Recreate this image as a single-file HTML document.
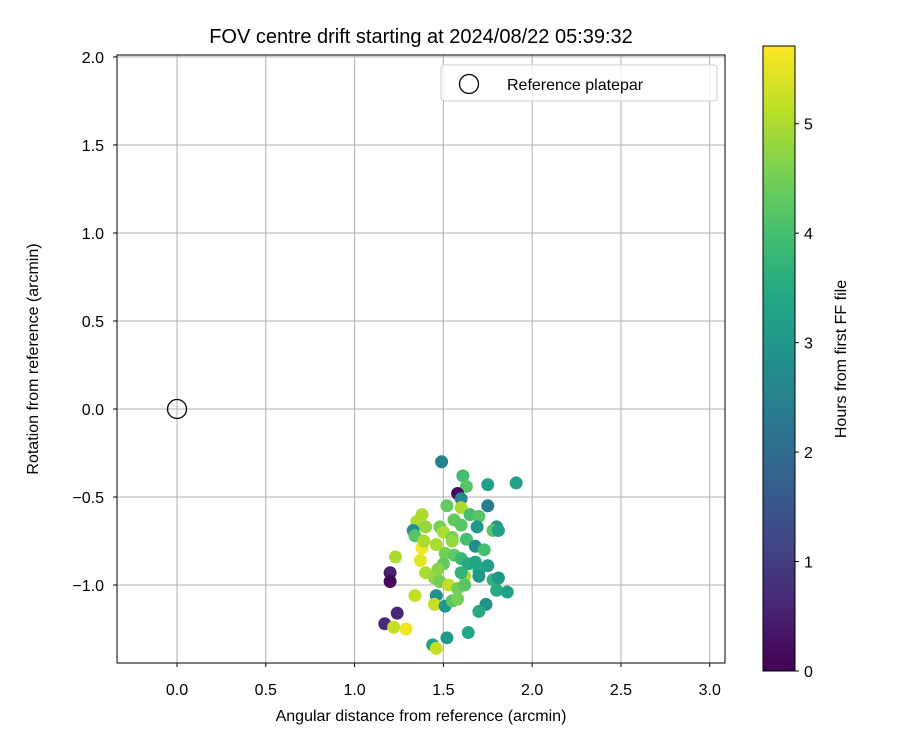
<!DOCTYPE html>
<html><head><meta charset="utf-8"><style>body{margin:0;background:#fff}svg text{font-family:"Liberation Sans",sans-serif;fill:#000}</style></head>
<body>
<svg id="c" width="900" height="750">
<defs><linearGradient id="vg" x1="0" y1="1" x2="0" y2="0">
<stop offset="0" stop-color="#440154"/><stop offset="0.1" stop-color="#482475"/><stop offset="0.2" stop-color="#414487"/><stop offset="0.3" stop-color="#355f8d"/><stop offset="0.4" stop-color="#2a788e"/><stop offset="0.5" stop-color="#21918c"/><stop offset="0.6" stop-color="#22a884"/><stop offset="0.7" stop-color="#44bf70"/><stop offset="0.8" stop-color="#7ad151"/><stop offset="0.9" stop-color="#bddf26"/><stop offset="1" stop-color="#fde725"/></linearGradient></defs>
</svg>
<script>
const xs=[1.49,1.61,1.63,1.75,1.91,1.58,1.60,1.75,1.52,1.60,1.65,1.70,1.38,1.35,1.56,1.60,1.33,1.34,1.40,1.48,1.50,1.55,1.63,1.69,1.80,1.78,1.81,1.68,1.38,1.37,1.39,1.46,1.55,1.23,1.51,1.56,1.60,1.64,1.68,1.73,1.75,1.70,1.62,1.60,1.50,1.47,1.40,1.45,1.48,1.53,1.58,1.62,1.70,1.78,1.81,1.80,1.86,1.20,1.20,1.34,1.46,1.45,1.51,1.55,1.58,1.74,1.70,1.24,1.17,1.22,1.29,1.52,1.64,1.44,1.46];
const ys=[-0.30,-0.38,-0.44,-0.43,-0.42,-0.48,-0.51,-0.55,-0.55,-0.56,-0.60,-0.61,-0.60,-0.64,-0.63,-0.66,-0.69,-0.72,-0.67,-0.67,-0.70,-0.73,-0.74,-0.67,-0.67,-0.69,-0.69,-0.78,-0.79,-0.86,-0.75,-0.77,-0.75,-0.84,-0.82,-0.83,-0.85,-0.88,-0.87,-0.80,-0.89,-0.92,-0.95,-0.93,-0.88,-0.91,-0.93,-0.96,-0.98,-1.00,-1.02,-1.00,-0.95,-0.97,-0.96,-1.03,-1.04,-0.93,-0.98,-1.06,-1.06,-1.11,-1.12,-1.09,-1.08,-1.11,-1.15,-1.16,-1.22,-1.24,-1.25,-1.30,-1.27,-1.34,-1.36];
const hours=[2.5,4,4.2,3.2,3.2,0.2,2.6,2.4,4.3,5,4,4.2,5,5,4.3,4.2,2.8,4.2,4.8,4.5,5,4.5,4,3,3,4.2,3.2,2.8,5.6,5.5,5,5,4.8,5,4.5,4.3,3.8,3.5,3.3,4,3.2,3.4,5,3.7,4.3,4.7,5,4.8,4.5,5.2,4.5,4.2,3,3.7,3,3.5,3.2,0.5,0.1,5.2,2.8,5.2,3,4.2,4.5,2.9,3.5,0.6,0.7,5.2,5.6,3.1,3.4,3.2,5.2];
const xTicks=[0,0.5,1,1.5,2,2.5,3], yTicks=[-1,-0.5,0,0.5,1,1.5,2], cTicks=[0,1,2,3,4,5];
const NS="http://www.w3.org/2000/svg",svg=document.getElementById('c');
const L=117,R=725,T=55,B=663,xmin=-0.338,xmax=3.086,ymin=-1.443,ymax=2.011,cmax=5.71;
const X=v=>L+(v-xmin)/(xmax-xmin)*(R-L), Y=v=>B-(v-ymin)/(ymax-ymin)*(B-T);
function el(t,a,txt){const e=document.createElementNS(NS,t);for(const k in a)e.setAttribute(k,a[k]);if(txt!=null)e.textContent=txt;svg.appendChild(e);return e;}
const vir=[[68,1,84],[72,36,117],[65,68,135],[53,95,141],[42,120,142],[33,145,140],[34,168,132],[68,191,112],[122,209,81],[189,223,38],[253,231,37]];
function cmap(t){t=Math.max(0,Math.min(1,t))*(vir.length-1);const i=Math.min(Math.floor(t),vir.length-2),f=t-i;const c=vir[i].map((v,k)=>Math.round(v+(vir[i+1][k]-v)*f));return`rgb(${c})`;}
xTicks.forEach(v=>{const g=el('line',{x1:X(v),x2:X(v),y1:T,y2:B,stroke:'#b0b0b0','stroke-width':1});
el('line',{x1:X(v),x2:X(v),y1:B,y2:B+4,stroke:'#000'});const t=el('text',{x:X(v),y:B+32,'text-anchor':'middle','font-size':16},v.toFixed(1));});
yTicks.forEach(v=>{const g=el('line',{x1:L,x2:R,y1:Y(v),y2:Y(v),stroke:'#b0b0b0','stroke-width':1});
el('line',{x1:L-4,x2:L,y1:Y(v),y2:Y(v),stroke:'#000'});const t=el('text',{x:L-13,y:Y(v)+6,'text-anchor':'end','font-size':16},(v<0?'\u2212':'')+Math.abs(v).toFixed(1));});
xs.forEach((v,i)=>{const c=el('circle',{cx:X(v),cy:Y(ys[i]),r:6.5,fill:cmap(hours[i]/cmax)});});
const ref=el('circle',{cx:X(0),cy:Y(0),r:9.5,fill:'none',stroke:'#000','stroke-width':1.3});
const fr=el('rect',{x:L,y:T,width:R-L,height:B-T,fill:'none',stroke:'#000'});
const lg=el('rect',{x:441,y:65,width:276,height:36,rx:3,fill:'#fff','fill-opacity':0.8,stroke:'#ccc'});
el('circle',{cx:469,cy:84,r:9.5,fill:'none',stroke:'#000','stroke-width':1.3});
const lt=el('text',{x:507,y:90,'font-size':16},'Reference platepar');
const ti=el('text',{x:421,y:43,'text-anchor':'middle','font-size':20},'FOV centre drift starting at 2024/08/22 05:39:32');
const xt=el('text',{x:421,y:721,'text-anchor':'middle','font-size':16},'Angular distance from reference (arcmin)');
const yt=el('text',{x:38,y:359,'text-anchor':'middle','font-size':16,transform:'rotate(-90 38 359)'},'Rotation from reference (arcmin)');
const CT=46,CB=671,CL=763,CR=795;
const cb=el('rect',{x:CL,y:CT,width:CR-CL,height:CB-CT,fill:'url(#vg)',stroke:'#000'});
cTicks.forEach(v=>{const y=CB-v/cmax*(CB-CT);el('line',{x1:CR,x2:CR+4,y1:y,y2:y,stroke:'#000'});const t=el('text',{x:CR+9,y:y+6,'font-size':16},v);});
const ct=el('text',{x:846,y:359,'text-anchor':'middle','font-size':16,transform:'rotate(-90 846 359)'},'Hours from first FF file');
</script>
</body></html>
